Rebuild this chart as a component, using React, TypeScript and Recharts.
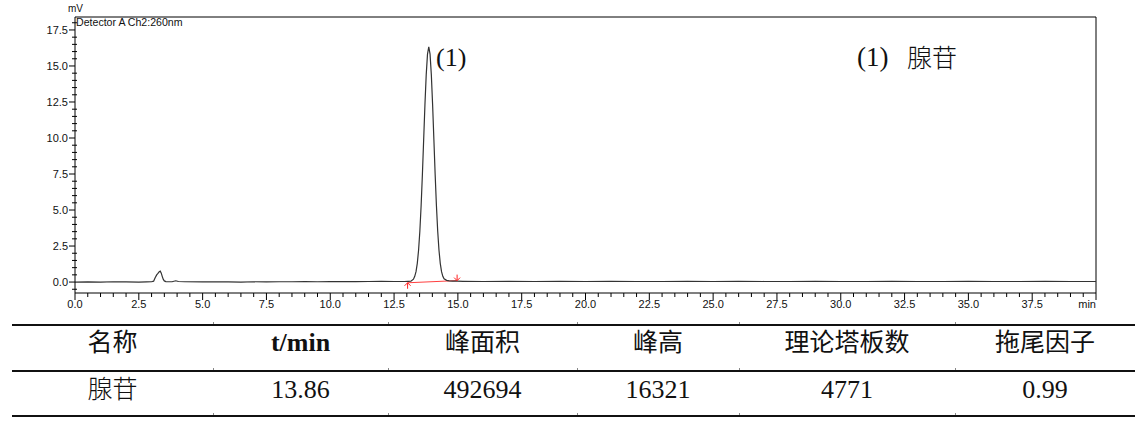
import React from 'react';
import { LineChart, Line, XAxis, YAxis, ReferenceLine, ReferenceDot } from 'recharts';

// 크로마토그램 구간별 데이터 [시간(min), 신호(mV)]
const BASELINE_START: [number, number][] = [
  [0, 0.0], [0.5, 0.01], [1, 0.0], [1.5, 0.02], [2, 0.01], [2.5, -0.01], [2.8, 0.01], [3.0, 0.02],
];
const IMPURITY_PEAK: [number, number][] = [
  [3.08, 0.06], [3.14, 0.3], [3.2, 0.5], [3.25, 0.6], [3.3, 0.72], [3.34, 0.76], [3.38, 0.62],
  [3.42, 0.38], [3.46, 0.18], [3.5, 0.08], [3.56, 0.03], [3.65, 0.02],
];
const BASELINE_MID: [number, number][] = [
  [3.8, 0.02], [3.95, 0.09], [4.05, 0.04], [4.3, 0.02], [5, 0.01], [5.5, 0.02], [6, 0.01],
  [6.5, 0.0], [7, 0.02], [7.5, 0.01], [8, 0.02], [8.5, 0.02], [9, 0.03], [9.5, 0.02], [10, 0.03],
  [10.5, 0.04], [11, 0.03], [11.5, 0.04], [12, 0.05], [12.5, 0.04], [12.9, 0.04],
];
const ADENOSINE_PEAK: [number, number][] = [
  [13.05, 0.05], [13.16, 0.06], [13.26, 0.2], [13.31, 0.4], [13.36, 0.72], [13.41, 1.3],
  [13.46, 2.21], [13.51, 3.53], [13.56, 5.3], [13.61, 7.47], [13.66, 9.9], [13.71, 12.32],
  [13.76, 14.4], [13.81, 15.82], [13.86, 16.32], [13.91, 15.82], [13.96, 14.4], [14.01, 12.32],
  [14.06, 9.9], [14.11, 7.47], [14.16, 5.3], [14.21, 3.53], [14.26, 2.21], [14.31, 1.3],
  [14.36, 0.72], [14.41, 0.4], [14.46, 0.22], [14.56, 0.12], [14.66, 0.08], [14.8, 0.06], [14.97, 0.06],
];
const BASELINE_END: [number, number][] = [
  [15.2, 0.05], [16, 0.04], [17, 0.05], [18, 0.04], [19, 0.05], [20, 0.04], [21, 0.05], [22, 0.04],
  [23, 0.04], [24, 0.05], [25, 0.04], [26, 0.05], [27, 0.04], [28, 0.04], [29, 0.05], [30, 0.04],
  [31, 0.04], [32, 0.05], [33, 0.04], [34, 0.04], [35, 0.05], [36, 0.04], [37, 0.04], [38, 0.05],
  [39, 0.04], [40, 0.04],
];

// 적분 구간 (빨간 기준선)
const INTEGRATION_START = { t: 13.03, mv: -0.05 };
const INTEGRATION_END = { t: 14.97, mv: 0.1 };

const X_MAX = 40;
const Y_DOMAIN: [number, number] = [-0.76, 18.4];

const PEAK_LABEL = '(1)';
const LEGEND_NO = '(1)';
const LEGEND_NAME = '腺苷';
const DETECTOR_TEXT = 'Detector A Ch2:260nm';

const TABLE_HEADERS = ['名称', 't/min', '峰面积', '峰高', '理论塔板数', '拖尾因子'];
const TABLE_VALUES = ['腺苷', '13.86', '492694', '16321', '4771', '0.99'];

const chartData = [...BASELINE_START, ...IMPURITY_PEAK, ...BASELINE_MID, ...ADENOSINE_PEAK, ...BASELINE_END]
  .map(([t, mv]) => ({ t, mv }));

// 0.5 간격 눈금 (2.5마다 주 눈금)
const X_TICKS = Array.from({ length: 81 }, (_, i) => i * 0.5);
const Y_TICKS = Array.from({ length: 38 }, (_, i) => -0.5 + i * 0.5);
const isMajor = (v: number) => Math.abs(v / 2.5 - Math.round(v / 2.5)) < 1e-6;

const AXIS_FONT = '"Liberation Sans", Arial, sans-serif';

const XTick = ({ x, y, payload }: any) => {
  const v = payload.value;
  const major = isMajor(v);
  return (
    <g>
      <line x1={x} x2={x} y1={y} y2={y + (major ? 7 : 4)} stroke="#000" strokeWidth={1} />
      {major && v < X_MAX && (
        <text x={x} y={y + 15} textAnchor="middle" fontSize={11} fontFamily={AXIS_FONT} fill="#111">
          {v.toFixed(1)}
        </text>
      )}
      {v === X_MAX && (
        <text x={x} y={y + 15} textAnchor="end" fontSize={11} fontFamily={AXIS_FONT} fill="#111">min</text>
      )}
    </g>
  );
};

const YTick = ({ x, y, payload }: any) => {
  const v = payload.value;
  const major = isMajor(v);
  return (
    <g>
      <line x1={major ? x - 6 : x - 3} x2={major ? x : x + 2} y1={y} y2={y} stroke="#000" strokeWidth={1} />
      {major && (
        <text x={x - 7} y={y + 4} textAnchor="end" fontSize={11} fontFamily={AXIS_FONT} fill="#111">
          {v.toFixed(1)}
        </text>
      )}
    </g>
  );
};

// 적분 시작/끝 화살표
const ArrowUp = ({ cx, cy }: any) => (
  <g stroke="#ff2020" strokeWidth={1} fill="none">
    <line x1={cx} x2={cx} y1={cy} y2={cy + 6} />
    <polyline points={`${cx - 3},${cy + 3} ${cx},${cy} ${cx + 3},${cy + 3}`} />
  </g>
);
const ArrowDown = ({ cx, cy }: any) => (
  <g stroke="#ff2020" strokeWidth={1} fill="none">
    <line x1={cx} x2={cx} y1={cy - 6} y2={cy} />
    <polyline points={`${cx - 3},${cy - 3} ${cx},${cy} ${cx + 3},${cy - 3}`} />
  </g>
);

const COL_EDGES = [12, 213, 388, 577, 739, 955, 1135];
const LINE_YS = [325, 371, 416];

const App: React.FC = () => {
  return (
    <div style={{ position: 'fixed', left: 0, top: 0, width: 1148, height: 428, background: '#fff', overflow: 'hidden' }}>
      <div style={{ position: 'absolute', left: 0, top: 0 }}>
        <LineChart width={1148} height={312} data={chartData} margin={{ top: 17, right: 52, left: 0, bottom: 0 }}>
          <XAxis
            dataKey="t"
            type="number"
            domain={[0, X_MAX]}
            ticks={X_TICKS}
            interval={0}
            allowDataOverflow
            height={19}
            tickSize={0}
            tickMargin={0}
            tickLine={false}
            tick={<XTick />}
            axisLine={{ stroke: '#000', strokeWidth: 1 }}
          />
          <YAxis
            type="number"
            domain={Y_DOMAIN}
            ticks={Y_TICKS}
            interval={0}
            allowDataOverflow
            width={75}
            tickSize={0}
            tickMargin={0}
            tickLine={false}
            tick={<YTick />}
            axisLine={{ stroke: '#000', strokeWidth: 1 }}
          />
          <ReferenceLine y={Y_DOMAIN[1]} stroke="#000" strokeWidth={1} ifOverflow="visible" />
          <ReferenceLine x={X_MAX} stroke="#000" strokeWidth={1} ifOverflow="visible" />
          <ReferenceLine
            segment={[{ x: INTEGRATION_START.t, y: INTEGRATION_START.mv }, { x: INTEGRATION_END.t, y: INTEGRATION_END.mv }]}
            stroke="#ff4040"
            strokeWidth={1}
          />
          <Line
            type="linear"
            dataKey="mv"
            stroke="#333"
            strokeWidth={1.2}
            dot={false}
            isAnimationActive={false}
          />
          <ReferenceDot x={INTEGRATION_START.t} y={INTEGRATION_START.mv} shape={<ArrowUp />} />
          <ReferenceDot x={INTEGRATION_END.t} y={INTEGRATION_END.mv} shape={<ArrowDown />} />
        </LineChart>
      </div>

      {/* 축 단위와 검출기 정보 */}
      <div style={{ position: 'absolute', left: 68, top: 4, fontSize: 10, lineHeight: '10px', fontFamily: AXIS_FONT, color: '#111' }}>mV</div>
      <div style={{ position: 'absolute', left: 76, top: 17, fontSize: 10.6, lineHeight: '10px', fontFamily: AXIS_FONT, color: '#111' }}>
        {DETECTOR_TEXT}
      </div>

      {/* 피크 라벨과 범례 */}
      <div style={{ position: 'absolute', left: 436, top: 43, fontSize: 26, lineHeight: '30px', fontFamily: '"Liberation Serif", serif', color: '#111' }}>
        {PEAK_LABEL}
      </div>
      <div style={{ position: 'absolute', left: 857, top: 42, fontSize: 27, lineHeight: '30px', fontFamily: '"Liberation Serif", serif', color: '#111' }}>
        {LEGEND_NO}
      </div>
      <div style={{ position: 'absolute', left: 907, top: 41, fontSize: 25, lineHeight: '30px', fontFamily: '"Noto Sans CJK SC", sans-serif', fontWeight: 300, color: '#111' }}>
        {LEGEND_NAME}
      </div>

      {/* 하단 결과 표 */}
      {LINE_YS.map((y) => (
        <div key={y} style={{ position: 'absolute', left: COL_EDGES[0], top: y - 1, width: COL_EDGES[6] - COL_EDGES[0], height: 1.6, background: '#111' }} />
      ))}
      {LINE_YS.map((y) =>
        COL_EDGES.slice(1, 6).map((cx) => (
          <div key={`${y}-${cx}`} style={{ position: 'absolute', left: cx, top: y - 3, width: 1, height: 2, background: '#888' }} />
        ))
      )}
      {TABLE_HEADERS.map((h, i) => (
        <div
          key={h}
          style={{
            position: 'absolute', left: COL_EDGES[i], width: COL_EDGES[i + 1] - COL_EDGES[i], top: 323, height: 40,
            lineHeight: '40px', textAlign: 'center', fontSize: i === 1 ? 26 : 25, fontWeight: i === 1 ? 'bold' : 'normal',
            fontFamily: '"Liberation Serif", "Noto Sans CJK SC", serif', color: '#111',
          }}
        >
          {h}
        </div>
      ))}
      {TABLE_VALUES.map((v, i) => (
        <div
          key={v}
          style={{
            position: 'absolute', left: COL_EDGES[i], width: COL_EDGES[i + 1] - COL_EDGES[i], top: 370, height: 40,
            lineHeight: '40px', textAlign: 'center', fontSize: i === 0 ? 25 : 26, fontWeight: i === 0 ? 300 : 'normal',
            fontFamily: '"Liberation Serif", "Noto Sans CJK SC", serif', color: '#111',
          }}
        >
          {v}
        </div>
      ))}
    </div>
  );
};

export default App;
